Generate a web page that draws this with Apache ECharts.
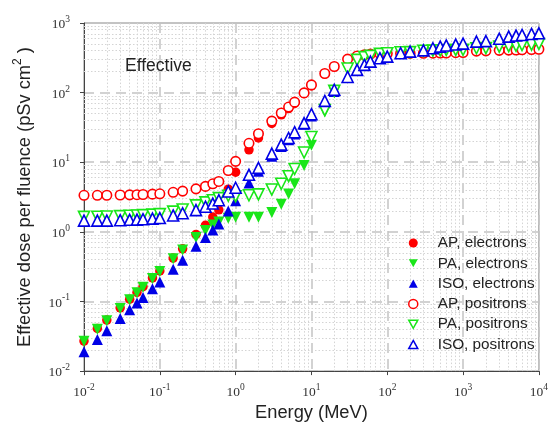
<!DOCTYPE html>
<html><head><meta charset="utf-8">
<script src="https://cdn.jsdelivr.net/npm/echarts@6/dist/echarts.min.js"></script>
<style>html,body{margin:0;padding:0;background:#fff}#c{width:551px;height:427px}</style>
</head><body><div id="c"></div>
<script>
// Energy (MeV)
const energies = [0.01,0.015,0.02,0.03,0.04,0.05,0.06,0.08,0.1,0.15,0.2,0.3,0.4,0.5,0.6,0.8,1,1.5,2,3,4,5,6,8,10,15,20,30,40,50,60,80,100,150,200,300,400,500,600,800,1000,1500,2000,3000,4000,5000,6000,8000,10000];

// Effective dose per fluence (pSv cm2)
const apElectrons = [0.027,0.041,0.054,0.081,0.108,0.135,0.163,0.218,0.275,
  0.42,0.57,0.92,1.24,1.63,2.07,4.1,7.2,15.1,22.3,
  36,48,59,70,97,125,186,236,
  303,336,350,357,362,364,365,366,368,369,370,371,375,377,395,398,405,408,410,412,416,420];
const paElectrons = [0.0268,0.040,0.053,0.079,0.106,0.133,0.160,0.214,0.270,
  0.41,0.55,0.83,1.05,1.25,1.38,1.57,1.62,1.62,1.62,
  1.9,2.5,3.5,4.9,9.0,17.5,53,100,
  222,295,323,337,360,368,380,382,400,401,403,410,410,412,434,436,458,466,470,482,488,500];
const isoElectrons = [0.0190,0.0285,0.038,0.057,0.076,0.095,0.114,0.152,0.191,
  0.29,0.39,0.62,0.83,1.06,1.30,2.0,2.8,5.05,7.4,
  12.2,16.8,21,25.5,35,46,72,104,
  168,212,250,279,312,329,368,388,405,434,458,476,490,506,540,550,595,637,660,673,696,711];
const apPositrons = [3.35,3.35,3.36,3.38,3.40,3.42,3.44,3.48,3.52,
  3.70,3.85,4.15,4.5,4.9,5.3,7.6,10.3,18.7,25.7,
  39,51,62,73,99,129,188,237,
  303,336,350,357,362,364,365,366,368,369,370,371,375,377,395,398,405,408,410,412,416,420];
const paPositrons = [1.64,1.65,1.66,1.68,1.70,1.72,1.74,1.77,1.80,
  1.95,2.1,2.4,2.65,2.85,3.05,3.3,3.25,3.35,3.45,
  4.05,4.9,6.3,8.0,13.8,23,56,106,
  222,295,323,337,360,368,380,382,400,401,403,410,410,412,434,436,458,466,470,482,488,500];
const isoPositrons = [1.45,1.45,1.45,1.47,1.49,1.50,1.52,1.55,1.58,
  1.72,1.85,2.05,2.3,2.55,2.85,3.8,4.3,6.6,8.3,
  13.3,17.9,22.3,27,36.5,49,76,110,
  168,212,250,279,312,329,368,388,405,434,458,476,490,506,540,550,595,637,660,673,696,711];

const seriesNames = ['AP, electrons','PA, electrons','ISO, electrons','AP, positrons','PA, positrons','ISO, positrons'];
const xDecades = [-2,-1,0,1,2,3];   // decades with minor grid lines
const yDecades = [-2,-1,0,1,2];
const minorMultipliers = [2,3,4,5,6,7,8,9];

const RED = '#ff0000', GREEN = '#19e619', BLUE = '#0000e6';
const DOWN = 'path://M0,0 L10,0 L5,9 Z';
const UP = 'path://M5,0 L10,9 L0,9 Z';

function pairs(vals){ return energies.map((e,i)=>[e, vals[i]]); }

const minorX = [], minorY = [];
xDecades.forEach(d => minorMultipliers.forEach(m => minorX.push({xAxis: m*Math.pow(10,d)})));
yDecades.forEach(d => minorMultipliers.forEach(m => minorY.push({yAxis: m*Math.pow(10,d)})));

function sup(v){ const e = Math.round(Math.log10(v)); return '{b|10}{s|' + e + '}'; }
const tickRich = {
  b: {fontFamily:'Liberation Serif, Times New Roman, serif', fontSize:13.5, color:'#333', lineHeight:17, verticalAlign:'bottom'},
  s: {fontFamily:'Liberation Serif, Times New Roman, serif', fontSize:9.5, color:'#333', lineHeight:10, verticalAlign:'top'}
};

function filled(name, vals, color, symbol, size, rotate){
  return {name, type:'scatter', data:pairs(vals), symbol, symbolSize:size, symbolRotate:rotate||0,
    itemStyle:{color, opacity:1, borderWidth:0}, z:3, emphasis:{disabled:true}};
}
function open(name, vals, color, symbol, size, rotate){
  return {name, type:'scatter', data:pairs(vals), symbol, symbolSize:size, symbolRotate:rotate||0,
    itemStyle:{color:'#ffffff', borderColor:color, borderWidth:1.6, opacity:1}, z:4, emphasis:{disabled:true}};
}

const chart = echarts.init(document.getElementById('c'), null, {renderer:'canvas'});
chart.setOption({
  animation:false,
  backgroundColor:'#ffffff',
  grid:{left:84, right:9, top:23, bottom:55, show:true, borderColor:'#888', borderWidth:1, backgroundColor:'transparent'},
  xAxis:{type:'log', logBase:10, min:0.01, max:10000, interval:1,
    name:'Energy (MeV)', nameLocation:'middle', nameGap:32,
    nameTextStyle:{fontFamily:'Liberation Sans, Arial, sans-serif', fontSize:18.3, color:'#222'},
    axisLine:{show:true, lineStyle:{color:'#444', width:1}},
    axisTick:{show:true, length:4, lineStyle:{color:'#444'}},
    axisLabel:{margin:11, formatter:sup, rich:tickRich},
    splitLine:{show:true, lineStyle:{color:'#c4c4c4', width:1.5, type:[10,6]}},
    minorTick:{show:false}, minorSplitLine:{show:false}},
  yAxis:{type:'log', logBase:10, min:0.01, max:1000, interval:1,
    name:'{a|Effective dose per fluence (pSv cm}{s|2}{a| )}', nameLocation:'middle', nameGap:50,
    nameTextStyle:{rich:{
      a:{fontFamily:'Liberation Sans, Arial, sans-serif', fontSize:18.3, color:'#222', lineHeight:22, verticalAlign:'bottom'},
      s:{fontFamily:'Liberation Sans, Arial, sans-serif', fontSize:12, color:'#222', lineHeight:12, verticalAlign:'top'}}},
    axisLine:{show:true, lineStyle:{color:'#444', width:1}},
    axisTick:{show:true, length:4, lineStyle:{color:'#444'}},
    axisLabel:{margin:14, formatter:sup, rich:tickRich},
    splitLine:{show:true, lineStyle:{color:'#c4c4c4', width:1.5, type:[10,6]}}},
  legend:{orient:'vertical', left:403, top:230, itemWidth:9, itemHeight:9, itemGap:4.3, z:10,
    textStyle:{fontFamily:'Liberation Sans, Arial, sans-serif', fontSize:15.3, color:'#222', lineHeight:16, padding:[0,0,0,15]},
    data:[
      {name:seriesNames[0], icon:'circle', itemStyle:{color:RED, borderWidth:0}},
      {name:seriesNames[1], icon:DOWN, itemStyle:{color:GREEN, borderWidth:0}},
      {name:seriesNames[2], icon:UP, itemStyle:{color:BLUE, borderWidth:0}},
      {name:seriesNames[3], icon:'circle', itemStyle:{color:'#fff', borderColor:RED, borderWidth:1.5}},
      {name:seriesNames[4], icon:DOWN, itemStyle:{color:'#fff', borderColor:GREEN, borderWidth:1.5}},
      {name:seriesNames[5], icon:UP, itemStyle:{color:'#fff', borderColor:BLUE, borderWidth:1.5}}
    ], selectedMode:false},
  graphic:[{type:'text', left:125, top:57, z:100, style:{text:'Effective', font:'17.5px "Liberation Sans", Arial, sans-serif', fill:'#222'}}],
  series:[
    {type:'line', data:[], silent:true, z:1,
      markLine:{silent:true, z:1, symbol:'none', label:{show:false}, animation:false,
        lineStyle:{color:'#d4d4d4', width:1, type:[1.5,2]}, emphasis:{disabled:true},
        data:minorX.concat(minorY)}},
    filled(seriesNames[0], apElectrons, RED, 'circle', 9.5),
    filled(seriesNames[1], paElectrons, GREEN, 'triangle', 11, 180),
    filled(seriesNames[2], isoElectrons, BLUE, 'triangle', 11),
    open(seriesNames[3], apPositrons, RED, 'circle', 9.5),
    open(seriesNames[4], paPositrons, GREEN, 'triangle', 11, 180),
    open(seriesNames[5], isoPositrons, BLUE, 'triangle', 11)
  ]
});
</script></body></html>
